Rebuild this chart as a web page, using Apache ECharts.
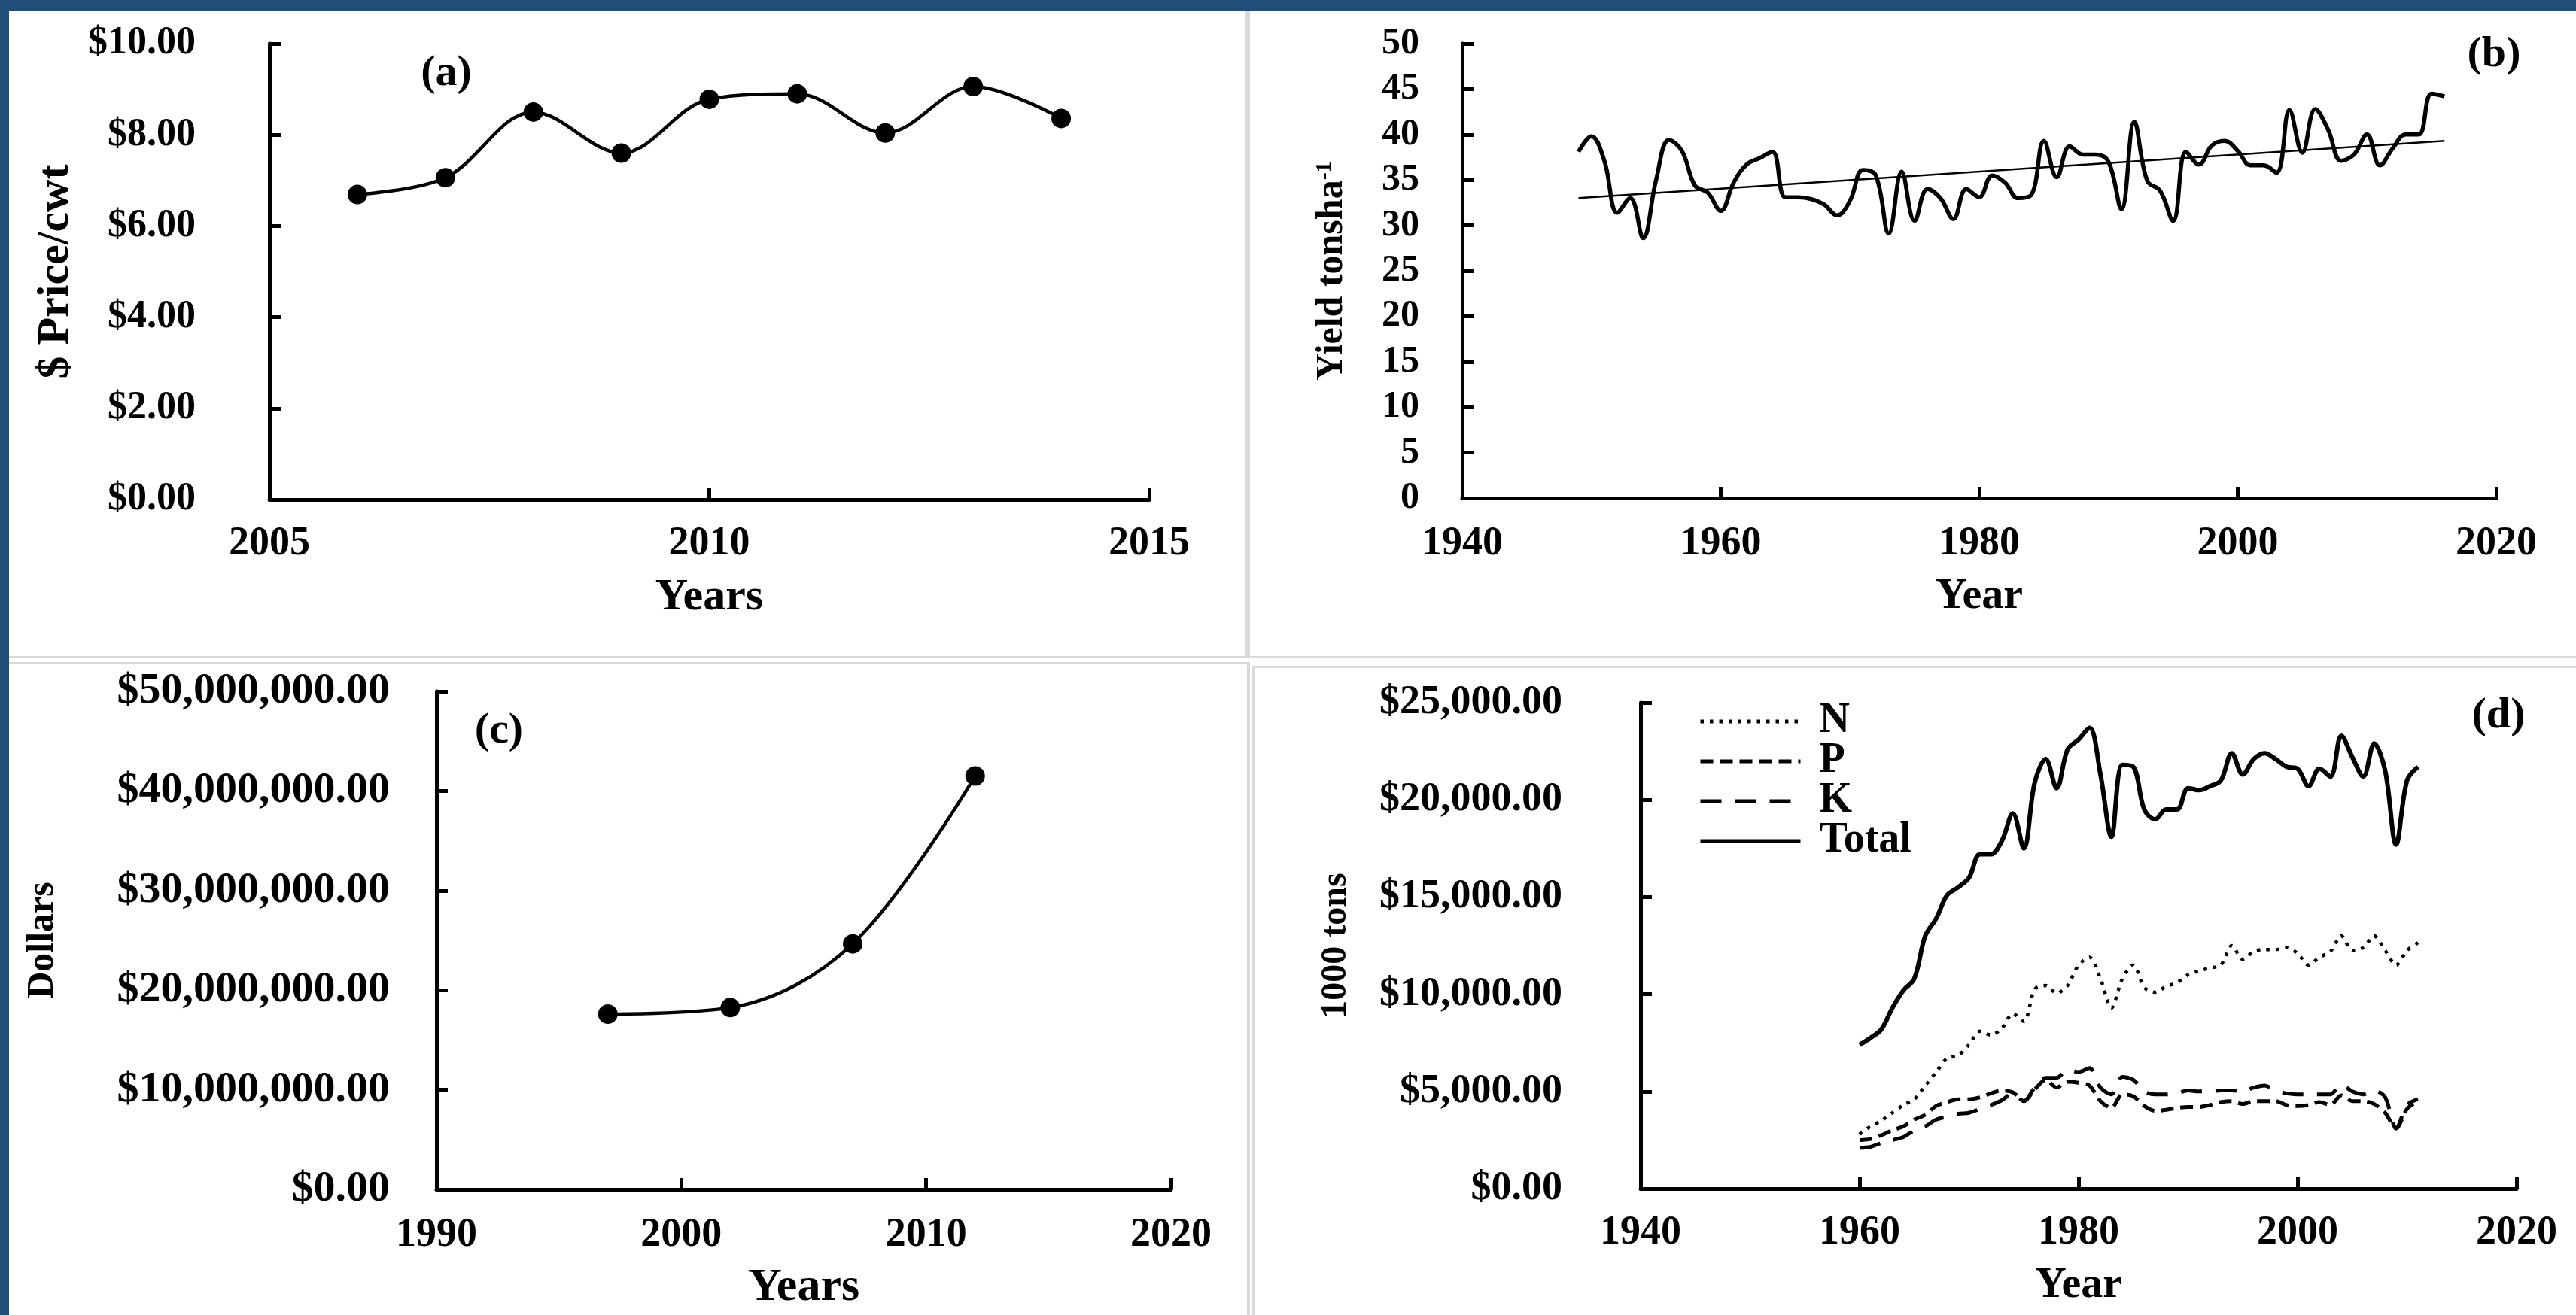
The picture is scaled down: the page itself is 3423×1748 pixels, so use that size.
<!DOCTYPE html>
<html>
<head>
<meta charset="utf-8">
<script src="https://cdn.jsdelivr.net/npm/echarts@6/dist/echarts.min.js"></script>
<style>
  html, body { margin: 0; padding: 0; background: #ffffff; }
  #wrap { position: relative; width: 3423px; height: 1748px; overflow: hidden; background: #ffffff; }
  .fr { position: absolute; }
  .blue { background: #1F4E79; }
  .gray { background: #D9D9D9; }
  #chart { position: absolute; left: 0; top: 0; width: 3423px; height: 1748px; }
</style>
</head>
<body>
<div id="wrap">
  <div class="fr blue" style="left:0;top:0;width:3423px;height:15px;"></div>
  <div class="fr blue" style="left:0;top:0;width:12px;height:1748px;"></div>
  <div class="fr gray" style="left:1654px;top:15px;width:7px;height:860px;"></div>
  <div class="fr gray" style="left:12px;top:872px;width:3411px;height:3px;"></div>
  <div class="fr gray" style="left:12px;top:880px;width:1649px;height:3px;"></div>
  <div class="fr gray" style="left:1657px;top:880px;width:4px;height:868px;"></div>
  <div class="fr gray" style="left:1664px;top:885px;width:4px;height:863px;"></div>
  <div class="fr gray" style="left:1664px;top:885px;width:1759px;height:3px;"></div>
  <div id="chart"></div>
</div>
<script>
// ---------- DATA ----------
// (a) price
const priceYears  = [2006, 2007, 2008, 2009, 2010, 2011, 2012, 2013, 2014];
const priceValues = [6.69, 7.06, 8.50, 7.60, 8.78, 8.90, 8.04, 9.06, 8.36];

// (b) yield
const yieldYears = [1949,1950,1951,1952,1953,1954,1955,1956,1957,1958,1959,
  1960,1961,1962,1963,1964,1965,1966,1967,1968,1969,
  1970,1971,1972,1973,1974,1975,1976,1977,1978,1979,
  1980,1981,1982,1983,1984,1985,1986,1987,1988,1989,
  1990,1991,1992,1993,1994,1995,1996,1997,1998,1999,
  2000,2001,2002,2003,2004,2005,2006,2007,2008,2009,
  2010,2011,2012,2013,2014,2015,2016];
const yieldValues = [38.1,39.8,37.1,31.4,33.0,28.6,35.0,39.4,38.2,34.4,33.6,
  31.6,34.7,36.7,37.4,38.1,33.1,33.1,32.9,32.3,31.1,
  32.7,36.1,35.5,29.1,35.9,30.5,34.0,33.0,30.7,34.0,
  33.1,35.5,34.7,33.0,33.3,39.3,35.3,38.7,37.8,37.8,
  37.0,31.8,41.4,34.9,33.8,30.5,38.1,36.7,38.8,39.3,
  38.2,36.6,36.6,35.8,42.7,38.0,42.8,40.5,37.1,37.8,
  40.0,36.6,38.5,40.0,40.0,44.5,44.2];
const trendYears  = [1949, 2016];
const trendValues = [33.0, 39.3];

// (c) dollars
const dollarYears  = [1997, 2002, 2007, 2012];
const dollarValues = [17600000, 18250000, 24650000, 41500000];

// (d) fertilizer (1000 tons)
const fertYears = [1960,1961,1962,1963,1964,1965,1966,1967,1968,1969,
  1970,1971,1972,1973,1974,1975,1976,1977,1978,1979,
  1980,1981,1982,1983,1984,1985,1986,1987,1988,1989,
  1990,1991,1992,1993,1994,1995,1996,1997,1998,1999,
  2000,2001,2002,2003,2004,2005,2006,2007,2008,2009,2010,2011];
const nValues = [2800,3200,3500,3900,4300,4600,5300,6000,6700,6850,
  7400,8100,7900,8250,9000,8600,10250,10450,10050,10450,
  11500,11900,10800,9300,10800,11500,10350,10100,10400,10600,
  11000,11200,11350,11500,12500,11800,12200,12300,12300,12400,
  12100,11500,11900,12200,13000,12250,12400,13000,12250,11500,12250,12650];
const pValues = [2500,2550,2750,3000,3200,3550,3800,4250,4450,4600,
  4600,4700,4900,5050,4950,4500,5100,5600,5200,5500,
  5450,5300,4500,4150,4850,4750,4250,4000,4050,4150,
  4200,4200,4300,4450,4500,4350,4500,4500,4500,4300,
  4250,4300,4450,4300,4800,4500,4500,4350,3900,3100,4100,4500];
const kValues = [2100,2150,2350,2500,2650,3000,3200,3550,3700,3850,
  3900,4100,4300,4550,4900,4500,5200,5700,5700,6100,
  6000,6200,5200,4850,5750,5600,5000,4850,4850,4900,
  5050,5000,5000,5050,5050,5000,5200,5300,5050,4900,
  4850,4850,4850,4850,5350,5000,4850,5050,4700,3100,4300,4600];
const totalValues = [7400,7750,8200,9300,10200,10800,13000,13900,15100,15500,
  16000,17200,17200,17900,19300,17500,20900,22100,20600,22600,
  23100,23700,21300,18100,21800,21700,19500,19000,19500,19500,
  20600,20500,20700,21000,22400,21300,22100,22400,22100,21700,
  21600,20700,21600,21200,23300,22200,21200,22900,21500,17700,21000,21700];

// tick settings
const priceTicks  = { min: 0, max: 10, interval: 2 };
const priceXTicks = { min: 2005, max: 2015, interval: 5 };
const yieldTicks  = { min: 0, max: 50, interval: 5 };
const yieldXTicks = { min: 1940, max: 2020, interval: 20 };
const dollarTicks  = { min: 0, max: 50000000, interval: 10000000 };
const dollarXTicks = { min: 1990, max: 2020, interval: 10 };
const fertTicks  = { min: 0, max: 25000, interval: 5000 };
const fertXTicks = { min: 1940, max: 2020, interval: 20 };

// ---------- STYLE HELPERS ----------
const FONT = '"Liberation Serif", "Times New Roman", serif';
const zip = (xs, ys) => xs.map((x, i) => [x, ys[i]]);
const money = v => '$' + Number(v).toLocaleString('en-US', { minimumFractionDigits: 2, maximumFractionDigits: 2 });

function xAx(gi, ticks, name, nameSize, nameGap, labelSize, margin) {
  return {
    type: 'value', gridIndex: gi, min: ticks.min, max: ticks.max, interval: ticks.interval,
    name: name, nameLocation: 'middle', nameGap: nameGap,
    nameTextStyle: { fontFamily: FONT, fontWeight: 'bold', fontSize: nameSize, color: '#000' },
    axisLine: { show: true, onZero: false, lineStyle: { color: '#000', width: 5 } },
    axisTick: { show: true, inside: true, length: 15, lineStyle: { color: '#000', width: 5 } },
    axisLabel: { margin: margin, fontFamily: FONT, fontWeight: 'bold', fontSize: labelSize, color: '#000',
      formatter: v => String(v) },
    splitLine: { show: false }
  };
}
function yAx(gi, ticks, name, nameSize, nameGap, fmt, labelSize, margin, rich) {
  return {
    type: 'value', gridIndex: gi, min: ticks.min, max: ticks.max, interval: ticks.interval,
    name: name, nameLocation: 'middle', nameGap: nameGap,
    nameTextStyle: { fontFamily: FONT, fontWeight: 'bold', fontSize: nameSize, color: '#000', rich: rich || {} },
    axisLine: { show: true, onZero: false, lineStyle: { color: '#000', width: 5 } },
    axisTick: { show: true, inside: true, length: 15, lineStyle: { color: '#000', width: 5 } },
    axisLabel: { margin: margin, fontFamily: FONT, fontWeight: 'bold', fontSize: labelSize, color: '#000', formatter: fmt },
    splitLine: { show: false }
  };
}

const panelLabel = (txt, x, y) => ({ type: 'text', x: x, y: y,
  style: { text: txt, font: 'bold 58px ' + FONT, fill: '#000', align: 'center', verticalAlign: 'middle' } });

const option = {
  backgroundColor: 'transparent',
  animation: false,
  grid: [
    { left: 358,  top: 58,  width: 1169, height: 606, outerBoundsMode: 'none', containLabel: false },
    { left: 1943, top: 58,  width: 1374, height: 604, outerBoundsMode: 'none', containLabel: false },
    { left: 580,  top: 919, width: 976,  height: 662, outerBoundsMode: 'none', containLabel: false },
    { left: 2180, top: 934, width: 1164, height: 646, outerBoundsMode: 'none', containLabel: false }
  ],
  xAxis: [
    xAx(0, priceXTicks, 'Years', 60, 100, 54, 32),
    xAx(1, yieldXTicks, 'Year', 58, 102, 54, 34),
    xAx(2, dollarXTicks, 'Years', 62, 100, 54, 34),
    xAx(3, fertXTicks, 'Year', 58, 100, 54, 32)
  ],
  yAxis: [
    yAx(0, priceTicks, '$ Price/cwt', 60, 254, v => '$' + v.toFixed(2), 52, 98),
    yAx(1, yieldTicks, 'Yield tonsha{sup|-1}', 50, 148, v => String(v), 50, 57,
      { sup: { fontFamily: FONT, fontWeight: 'bold', fontSize: 30, color: '#000', verticalAlign: 'top' } }),
    yAx(2, dollarTicks, 'Dollars', 50, 498, money, 58, 62),
    yAx(3, fertTicks, '1000 tons', 48, 380, money, 54, 104)
  ],
  legend: {
    orient: 'vertical', left: 2252, top: 926, itemWidth: 133, itemHeight: 16, itemGap: -3,
    itemStyle: { opacity: 0 },
    lineStyle: { width: 5 },
    textStyle: { fontFamily: FONT, fontWeight: 'bold', fontSize: 56, color: '#000', padding: [0, 0, 0, 20] },
    data: ['N', 'P', 'K', 'Total']
  },
  graphic: [
    panelLabel('(a)', 593, 98),
    panelLabel('(b)', 3314, 73),
    panelLabel('(c)', 663, 972),
    panelLabel('(d)', 3320, 952)
  ],
  series: [
    { type: 'line', xAxisIndex: 0, yAxisIndex: 0, data: zip(priceYears, priceValues), smooth: 0.35,
      symbol: 'circle', symbolSize: 26, itemStyle: { color: '#000' }, lineStyle: { color: '#000', width: 4.5 } },
    { type: 'line', xAxisIndex: 1, yAxisIndex: 1, data: zip(yieldYears, yieldValues), smooth: 0.4,
      symbol: 'none', lineStyle: { color: '#000', width: 5.5 } },
    { type: 'line', xAxisIndex: 1, yAxisIndex: 1, data: zip(trendYears, trendValues),
      symbol: 'none', lineStyle: { color: '#000', width: 2.5 } },
    { type: 'line', xAxisIndex: 2, yAxisIndex: 2, data: zip(dollarYears, dollarValues), smooth: 0.35,
      symbol: 'circle', symbolSize: 26, itemStyle: { color: '#000' }, lineStyle: { color: '#000', width: 4.5 } },
    { name: 'N', type: 'line', xAxisIndex: 3, yAxisIndex: 3, data: zip(fertYears, nValues), smooth: 0.3,
      symbol: 'none', itemStyle: { color: '#000' }, lineStyle: { color: '#000', width: 4.5, type: [4.5, 8] } },
    { name: 'P', type: 'line', xAxisIndex: 3, yAxisIndex: 3, data: zip(fertYears, pValues), smooth: 0.3,
      symbol: 'none', itemStyle: { color: '#000' }, lineStyle: { color: '#000', width: 5, type: [17, 9] } },
    { name: 'K', type: 'line', xAxisIndex: 3, yAxisIndex: 3, data: zip(fertYears, kValues), smooth: 0.3,
      symbol: 'none', itemStyle: { color: '#000' }, lineStyle: { color: '#000', width: 5, type: [28, 18] } },
    { name: 'Total', type: 'line', xAxisIndex: 3, yAxisIndex: 3, data: zip(fertYears, totalValues), smooth: 0.35,
      symbol: 'none', itemStyle: { color: '#000' }, lineStyle: { color: '#000', width: 6 } }
  ]
};

const chart = echarts.init(document.getElementById('chart'), null, { renderer: 'canvas' });
chart.setOption(option);
</script>
</body>
</html>
